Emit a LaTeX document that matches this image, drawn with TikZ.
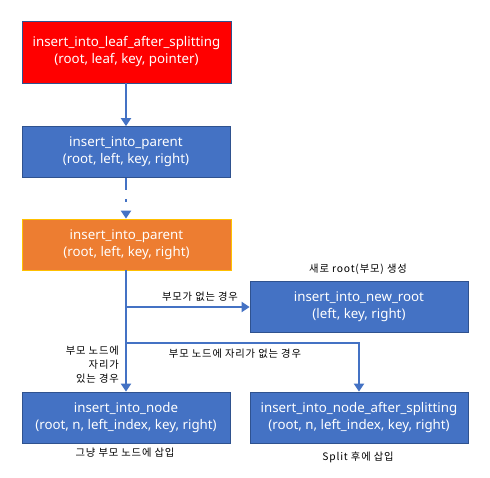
\documentclass[tikz,border=0pt]{standalone}
\usepackage{fontspec}
\setmainfont{Noto Sans}
\newfontfamily\kr[LetterSpace=8]{Noto Sans CJK KR}
\usetikzlibrary{arrows.meta}
\definecolor{boxblue}{HTML}{4472C4}
\definecolor{boxedge}{HTML}{2F528F}
\definecolor{boxorange}{HTML}{ED7D31}
\definecolor{boxgold}{HTML}{FFC000}
\definecolor{boxred}{HTML}{FF0000}
\tikzset{
  fbox/.style={draw=boxedge, line width=0.8pt, fill=boxblue, text=white, align=center,
    inner sep=0pt, font=\fontsize{13.3}{17}\selectfont, minimum height=51pt},
  conn/.style={draw=boxblue, line width=2.6pt, -{Triangle[length=8pt,width=10pt]}},
  lbl/.style={font=\kr\fontsize{10.3}{14}\selectfont, inner sep=0pt, text=black}
}
\begin{document}
\begin{tikzpicture}[x=1pt,y=-1pt]
\useasboundingbox[fill=white] (0,0) rectangle (490,478);
\node[fbox, fill=boxred, minimum width=209pt, minimum height=62pt] (leaf) at (126.5,52)
  {insert\_into\_leaf\_after\_splitting\\(root, leaf, key, pointer)};
\node[fbox, minimum width=208pt] (par1) at (126,152)
  {insert\_into\_parent\\(root, left, key, right)};
\node[fbox, fill=boxorange, draw=boxgold, minimum width=209pt] (par2) at (126.5,244.5)
  {insert\_into\_parent\\(root, left, key, right)};
\node[fbox, minimum width=218pt] (newroot) at (359,306.5)
  {insert\_into\_new\_root\\(left, key, right)};
\node[fbox, minimum width=208pt] (ins) at (126,417.5)
  {insert\_into\_node\\(root, n, left\_index, key, right)};
\node[fbox, minimum width=218pt] (inssplit) at (359,417.5)
  {insert\_into\_node\_after\_splitting\\(root, n, left\_index, key, right)};

\draw[conn] (leaf.south -| par1.north) -- (par1.north);
\draw[conn, dash pattern=on 12pt off 9pt on 3pt off 30pt] (par1.south) -- (par2.north -| par1.south);
\draw[conn] (par2.south -| ins.north) -- (ins.north);
\coordinate (b1) at (126,307);
\coordinate (b2) at (126,343);
\draw[conn] (b1) -- (b1 -| newroot.west);
\draw[conn] (b2) -| (inssplit.north);

\node[lbl] (l1) at (358,269) {새로 root(부모) 생성};
\node[lbl] (l2) at (200,297) {부모가 없는 경우};
\node[lbl] (l3) at (235,354) {부모 노드에 자리가 없는 경우};
\node[lbl, anchor=east, align=right] (l4) at (119,365) {부모 노드에\\자리가\\있는 경우};
\node[lbl] (l5) at (125,453) {그냥 부모 노드에 삽입};
\node[lbl] (l6) at (358,457) {Split 후에 삽입};
\end{tikzpicture}
\end{document}
